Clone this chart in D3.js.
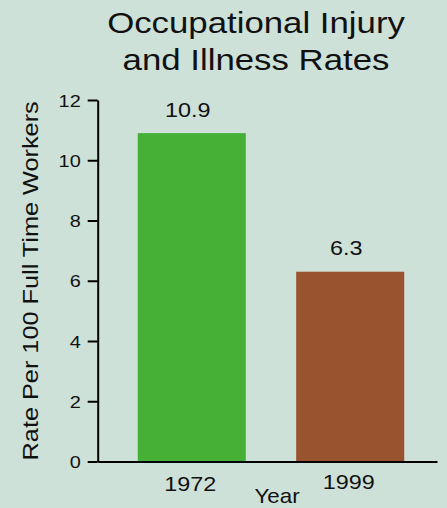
<!DOCTYPE html>
<html>
<head>
<meta charset="utf-8">
<script src="https://cdn.jsdelivr.net/npm/d3@7"></script>
<style>
  html, body { margin: 0; padding: 0; background: #cde1d8; }
  svg { display: block; }
  text { font-family: "Liberation Sans", Arial, Helvetica, sans-serif; fill: #111; }
</style>
</head>
<body>
<svg id="chart" width="447" height="508"></svg>
<script>
// Injury and illness rates per 100 full-time workers
const years = ["1972", "1999"];
const rates = [10.9, 6.3];
const barColors = ["#45b035", "#9a532f"];
const yTicks = [0, 2, 4, 6, 8, 10, 12];
const titleLines = ["Occupational Injury", "and Illness Rates"];

const W = 447, H = 508;
const plotLeft = 97.7, plotRight = 437, plotTop = 100, plotBottom = 461.5;
const stretch = 1.17; // slightly widened lettering

const svg = d3.select("#chart");
svg.append("rect").attr("width", W).attr("height", H).attr("fill", "#cde1d8");

const x = d3.scaleBand()
  .domain(years)
  .range([plotLeft, plotRight])
  .paddingInner(0.318)
  .paddingOuter(0.23)
  .align(0.55);

const y = d3.scaleLinear().domain([0, 12]).range([plotBottom, plotTop]);

// Title
svg.selectAll("text.title")
  .data(titleLines)
  .join("text")
  .attr("class", "title")
  .attr("text-anchor", "middle")
  .attr("font-size", 29)
  .attr("transform", (d, i) => `translate(256,${33 + i * 37}) scale(1.2,1)`)
  .text(d => d);

// Bars
svg.selectAll("rect.bar")
  .data(years)
  .join("rect")
  .attr("class", "bar")
  .attr("x", d => x(d))
  .attr("width", x.bandwidth())
  .attr("y", (d, i) => y(rates[i]))
  .attr("height", (d, i) => y(0) - y(rates[i]))
  .attr("fill", (d, i) => barColors[i]);

// Value labels
svg.selectAll("text.value")
  .data(years)
  .join("text")
  .attr("class", "value")
  .attr("text-anchor", "middle")
  .attr("font-size", 20)
  .attr("transform", (d, i) =>
    `translate(${x(d) + x.bandwidth() / 2 - 4},${y(rates[i]) - 16.5}) scale(${stretch},1)`)
  .text((d, i) => rates[i]);

// Y axis
const yAxis = svg.append("g")
  .attr("transform", `translate(${plotLeft},0)`)
  .call(d3.axisLeft(y).tickValues(yTicks).tickSize(10).tickSizeOuter(0).tickPadding(7));
yAxis.select(".domain").attr("stroke", "#000").attr("stroke-width", 2);
yAxis.selectAll(".tick line").attr("stroke", "#000").attr("stroke-width", 2);
yAxis.selectAll(".tick text")
  .attr("font-size", 17)
  .attr("fill", "#111")
  .attr("font-family", "Liberation Sans, Arial, sans-serif")
  .attr("dy", "0.36em")
  .attr("transform", `scale(${stretch},1)`)
  .attr("x", -17 / stretch);

// X axis
const xAxis = svg.append("g")
  .attr("transform", `translate(0,${plotBottom})`)
  .call(d3.axisBottom(x).tickSize(0).tickSizeOuter(0).tickPadding(0));
xAxis.select(".domain").attr("stroke", "#000").attr("stroke-width", 2.2);
xAxis.selectAll(".tick text")
  .attr("font-size", 20)
  .attr("fill", "#111")
  .attr("font-family", "Liberation Sans, Arial, sans-serif")
  .attr("dy", null)
  .attr("y", (d, i) => i === 0 ? 29.5 : 27.5)
  .attr("transform", `translate(-1.5,0) scale(${stretch},1)`);

// Axis titles
svg.append("text")
  .attr("text-anchor", "middle")
  .attr("font-size", 20)
  .attr("transform", `translate(277,503) scale(1.12,1)`)
  .text("Year");

svg.append("text")
  .attr("text-anchor", "middle")
  .attr("font-size", 22)
  .attr("transform", `translate(37.5,${(plotTop + 461.7) / 2}) rotate(-90) scale(1.15,1)`)
  .text("Rate Per 100 Full Time Workers");
</script>
</body>
</html>
